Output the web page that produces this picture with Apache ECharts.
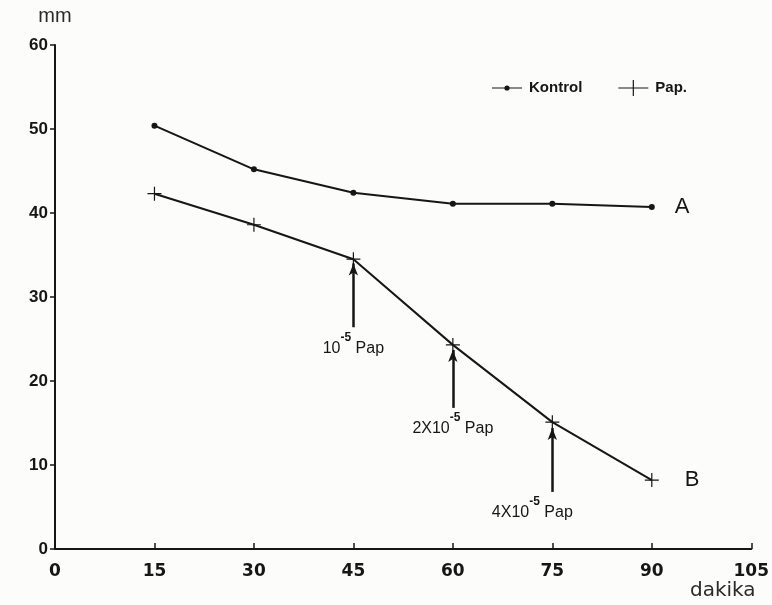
<!DOCTYPE html>
<html>
<head>
<meta charset="utf-8">
<script src="https://cdn.jsdelivr.net/npm/echarts@6/dist/echarts.min.js"></script>
<style>
  html, body { margin: 0; padding: 0; background: #fcfcfb; }
  #chart { width: 772px; height: 605px; }
</style>
</head>
<body>
<div id="chart"></div>
<script>
// Time points (dakika) and measured contraction heights (mm)
const minutes = [15, 30, 45, 60, 75, 90];
const kontrol = [50.4, 45.2, 42.4, 41.1, 41.1, 40.7];
const pap = [42.3, 38.6, 34.5, 24.3, 15.1, 8.2];

// Papaverine additions: time, arrow base / tip (mm) and dose prefix
const doseTimes = [45, 60, 75];
const arrowBase = [26.4, 16.8, 6.8];
const arrowTip = [34.0, 23.7, 14.4];
const doseLabels = ['10', '2X10', '4X10'];

const ink = '#161616';
const font = 'Liberation Sans, Arial, sans-serif';
const wideFont = 'DejaVu Sans, Liberation Sans, sans-serif';

const plusPath = 'path://M0,6.4h14v1.2h-14z M6.4,0h1.2v14h-1.2z';

const doseLines = doseTimes.map((t, i) => [
  {
    coord: [t, arrowBase[i]],
    label: {
      formatter: '{b|' + doseLabels[i] + '}{s|-5}{b| Pap}',
      padding: i === 2 ? [0, 40, 0, 0] : [0, 0, 0, 0]
    }
  },
  { coord: [t, arrowTip[i]] }
]);

const chart = echarts.init(document.getElementById('chart'), null, { renderer: 'canvas' });

chart.setOption({
  backgroundColor: '#fcfcfb',
  animation: false,
  grid: { left: 55, right: 15, top: 45, bottom: 56, containLabel: false },
  legend: {
    left: 487,
    top: 75,
    itemWidth: 30,
    itemHeight: 16,
    itemGap: 36,
    symbolKeepAspect: true,
    textStyle: { fontFamily: font, fontSize: 15, fontWeight: 'bold', color: ink, padding: [0, 0, 0, 2] },
    data: [
      { name: 'Kontrol', icon: 'path://M0,2h30v1.2h-30z M15,0a2.6,2.6 0 1,1 0,5.2a2.6,2.6 0 1,1 0,-5.2z' },
      { name: 'Pap.', icon: 'path://M0,7.4h30v1.2h-30z M14.4,0h1.2v16h-1.2z' }
    ]
  },
  xAxis: {
    type: 'value',
    min: 0,
    max: 105,
    interval: 15,
    splitLine: { show: false },
    axisLine: { lineStyle: { color: ink, width: 2 } },
    axisTick: { inside: true, length: 6, lineStyle: { color: ink, width: 1.5 } },
    axisLabel: { margin: 14, fontFamily: wideFont, fontSize: 17, fontWeight: 'bold', color: ink }
  },
  yAxis: {
    type: 'value',
    min: 0,
    max: 60,
    interval: 10,
    name: 'mm',
    nameGap: 19,
    nameTextStyle: { fontFamily: font, fontSize: 20, color: '#2a2a2a' },
    splitLine: { show: false },
    axisLine: { show: true, lineStyle: { color: ink, width: 2 } },
    axisTick: { show: true, length: 5, lineStyle: { color: ink, width: 1.5 } },
    axisLabel: { margin: 7, fontFamily: font, fontSize: 17, fontWeight: 'bold', color: ink }
  },
  graphic: [
    {
      type: 'text',
      left: 690,
      top: 581,
      style: { text: 'dakika', font: '20px ' + wideFont, fill: '#2a2a2a' }
    }
  ],
  series: [
    {
      name: 'Kontrol',
      type: 'line',
      data: minutes.map((m, i) => [m, kontrol[i]]),
      symbol: 'circle',
      symbolSize: 6,
      lineStyle: { color: ink, width: 2 },
      itemStyle: { color: ink },
      endLabel: {
        show: true,
        formatter: 'A',
        distance: 23,
        fontFamily: font,
        fontSize: 22,
        color: ink
      }
    },
    {
      name: 'Pap.',
      type: 'line',
      data: minutes.map((m, i) => [m, pap[i]]),
      symbol: plusPath,
      symbolSize: 14,
      lineStyle: { color: ink, width: 2 },
      itemStyle: { color: ink },
      endLabel: {
        show: true,
        formatter: 'B',
        distance: 33,
        fontFamily: font,
        fontSize: 22,
        color: ink
      },
      markLine: {
        silent: true,
        symbol: ['none', 'arrow'],
        symbolSize: [7, 12],
        lineStyle: { color: ink, width: 2.5, type: 'solid' },
        label: {
          show: true,
          position: 'start',
          distance: 4,
          color: ink,
          rich: {
            b: { fontFamily: font, fontSize: 16, color: ink, lineHeight: 25, verticalAlign: 'bottom' },
            s: { fontFamily: font, fontSize: 12, fontWeight: 'bold', color: ink, lineHeight: 25, verticalAlign: 'top' }
          }
        },
        data: doseLines
      }
    }
  ]
});
</script>
</body>
</html>
